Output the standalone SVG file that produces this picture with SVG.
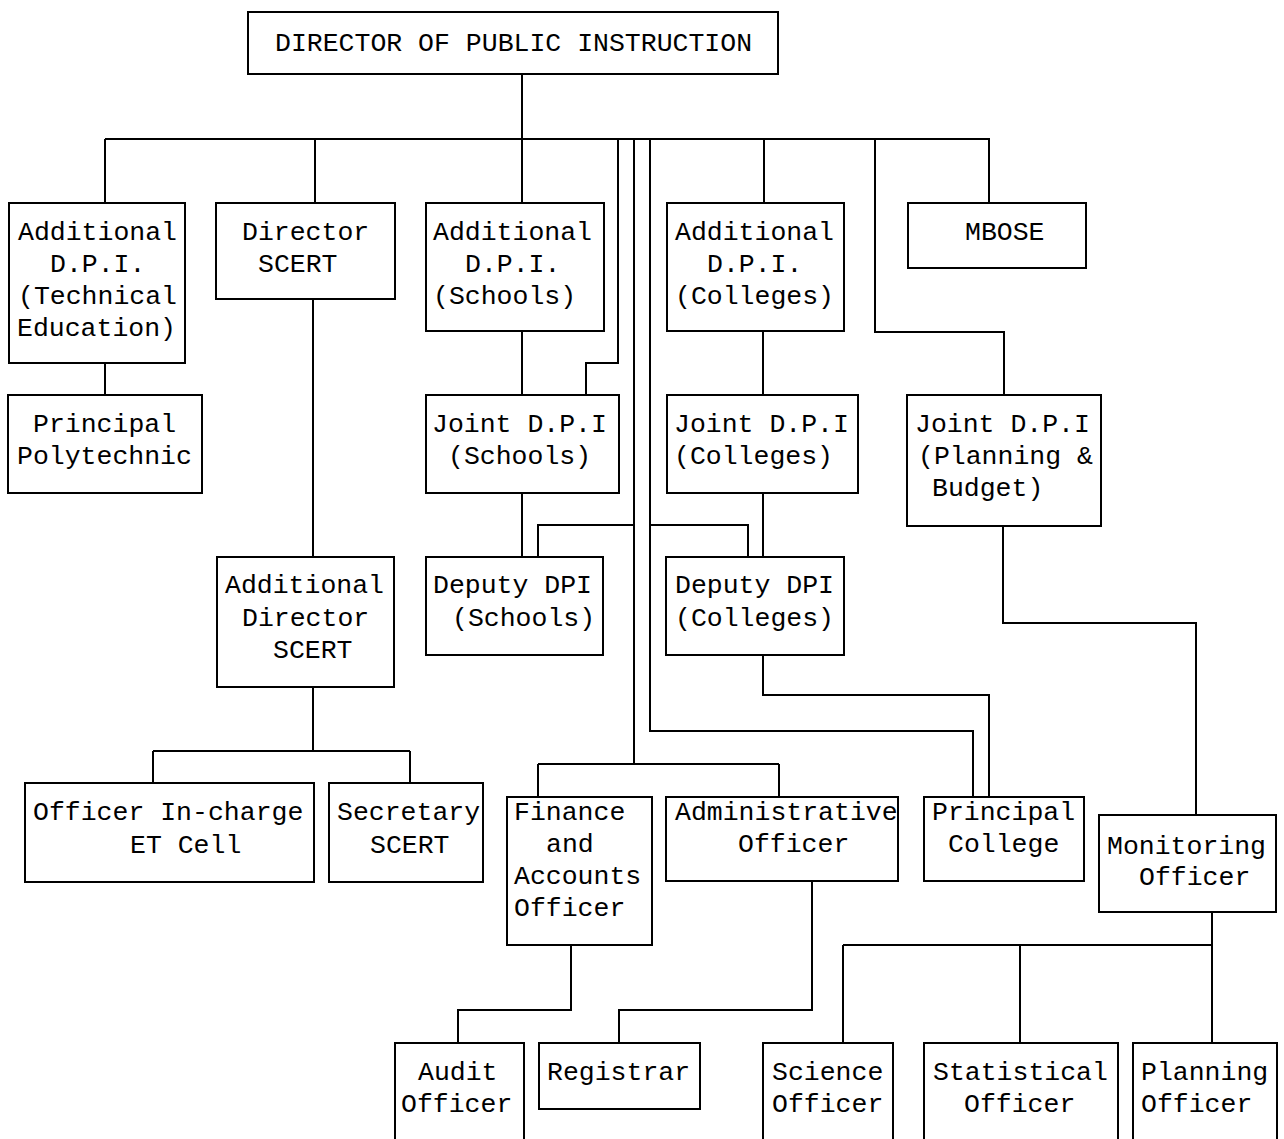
<svg xmlns="http://www.w3.org/2000/svg" width="1284" height="1139" viewBox="0 0 1284 1139">
<style>
.b{fill:#fff;stroke:#000;stroke-width:2}
.c{fill:none;stroke:#000;stroke-width:2}
.t{font-family:"Liberation Mono","DejaVu Sans Mono",monospace;font-size:26.5px;fill:#000}
</style>
<rect width="1284" height="1139" fill="#fff"/>
<g id="connectors" class="c">
<path d="M522 74V139M105 139H990M105 139V203M315 139V203M522 139V203M764 139V203M989 139V203"/>
<path d="M875 139V332H1004V395"/>
<path d="M618 139V363H586V395"/>
<path d="M634 139V764M634 525H538V557"/>
<path d="M650 139V731H973V797M650 525H748V557"/>
<path d="M105 363V395M313 299V557M522 331V395M522 493V557"/>
<path d="M763 331V395M763 493V557M763 655V695H989V797"/>
<path d="M1003 526V623H1196V815"/>
<path d="M313 687V751M153 751H410M153 751V783M410 751V783"/>
<path d="M538 764H779M538 764V797M779 764V797"/>
<path d="M571 945V1010H458V1043"/>
<path d="M812 881V1010H619V1043"/>
<path d="M1212 912V1043M843 945H1212M843 945V1043M1020 945V1043"/>
</g>
<g id="n-dpi"><rect class="b" x="248" y="12" width="530" height="62"/><text class="t" x="275" y="51">DIRECTOR OF PUBLIC INSTRUCTION</text></g>
<g id="n-adpi-tech"><rect class="b" x="9" y="203" width="176" height="160"/><text class="t" x="18" y="240">Additional</text><text class="t" x="50" y="272">D.P.I.</text><text class="t" x="18" y="304">(Technical</text><text class="t" x="17" y="336">Education)</text></g>
<g id="n-dir-scert"><rect class="b" x="216" y="203" width="179" height="96"/><text class="t" x="242" y="240">Director</text><text class="t" x="258" y="272">SCERT</text></g>
<g id="n-adpi-schools"><rect class="b" x="426" y="203" width="178" height="128"/><text class="t" x="433" y="240">Additional</text><text class="t" x="465" y="272">D.P.I.</text><text class="t" x="433" y="304">(Schools)</text></g>
<g id="n-adpi-colleges"><rect class="b" x="667" y="203" width="177" height="128"/><text class="t" x="675" y="240">Additional</text><text class="t" x="707" y="272">D.P.I.</text><text class="t" x="675" y="304">(Colleges)</text></g>
<g id="n-mbose"><rect class="b" x="908" y="203" width="178" height="65"/><text class="t" x="965" y="240">MBOSE</text></g>
<g id="n-polytechnic"><rect class="b" x="8" y="395" width="194" height="98"/><text class="t" x="33" y="432">Principal</text><text class="t" x="17" y="464">Polytechnic</text></g>
<g id="n-jdpi-schools"><rect class="b" x="426" y="395" width="193" height="98"/><text class="t" x="432" y="432">Joint D.P.I</text><text class="t" x="448" y="464">(Schools)</text></g>
<g id="n-jdpi-colleges"><rect class="b" x="667" y="395" width="191" height="98"/><text class="t" x="674" y="432">Joint D.P.I</text><text class="t" x="674" y="464">(Colleges)</text></g>
<g id="n-jdpi-planning"><rect class="b" x="907" y="395" width="194" height="131"/><text class="t" x="915" y="432">Joint D.P.I</text><text class="t" x="918" y="464">(Planning &amp;</text><text class="t" x="932" y="496">Budget)</text></g>
<g id="n-add-dir-scert"><rect class="b" x="217" y="557" width="177" height="130"/><text class="t" x="225" y="593">Additional</text><text class="t" x="242" y="626">Director</text><text class="t" x="273" y="658">SCERT</text></g>
<g id="n-ddpi-schools"><rect class="b" x="426" y="557" width="177" height="98"/><text class="t" x="433" y="593">Deputy DPI</text><text class="t" x="452" y="626">(Schools)</text></g>
<g id="n-ddpi-colleges"><rect class="b" x="666" y="557" width="178" height="98"/><text class="t" x="675" y="593">Deputy DPI</text><text class="t" x="675" y="626">(Colleges)</text></g>
<g id="n-et-cell"><rect class="b" x="25" y="783" width="289" height="99"/><text class="t" x="33" y="820">Officer In-charge</text><text class="t" x="130" y="853">ET Cell</text></g>
<g id="n-secretary"><rect class="b" x="329" y="783" width="154" height="99"/><text class="t" x="337" y="820">Secretary</text><text class="t" x="370" y="853">SCERT</text></g>
<g id="n-finance"><rect class="b" x="507" y="797" width="145" height="148"/><text class="t" x="514" y="820">Finance</text><text class="t" x="546" y="852">and</text><text class="t" x="514" y="884">Accounts</text><text class="t" x="514" y="916">Officer</text></g>
<g id="n-admin"><rect class="b" x="666" y="797" width="232" height="84"/><text class="t" x="675" y="820">Administrative</text><text class="t" x="738" y="852">Officer</text></g>
<g id="n-principal-college"><rect class="b" x="924" y="797" width="160" height="84"/><text class="t" x="932" y="820">Principal</text><text class="t" x="948" y="852">College</text></g>
<g id="n-monitoring"><rect class="b" x="1099" y="815" width="177" height="97"/><text class="t" x="1107" y="854">Monitoring</text><text class="t" x="1139" y="885">Officer</text></g>
<g id="n-audit"><rect class="b" x="395" y="1043" width="129" height="100"/><text class="t" x="418" y="1080">Audit</text><text class="t" x="401" y="1112">Officer</text></g>
<g id="n-registrar"><rect class="b" x="539" y="1043" width="161" height="66"/><text class="t" x="547" y="1080">Registrar</text></g>
<g id="n-science"><rect class="b" x="763" y="1043" width="130" height="100"/><text class="t" x="772" y="1080">Science</text><text class="t" x="772" y="1112">Officer</text></g>
<g id="n-statistical"><rect class="b" x="924" y="1043" width="194" height="100"/><text class="t" x="933" y="1080">Statistical</text><text class="t" x="964" y="1112">Officer</text></g>
<g id="n-planning"><rect class="b" x="1133" y="1043" width="144" height="100"/><text class="t" x="1141" y="1080">Planning</text><text class="t" x="1141" y="1112">Officer</text></g>
</svg>
